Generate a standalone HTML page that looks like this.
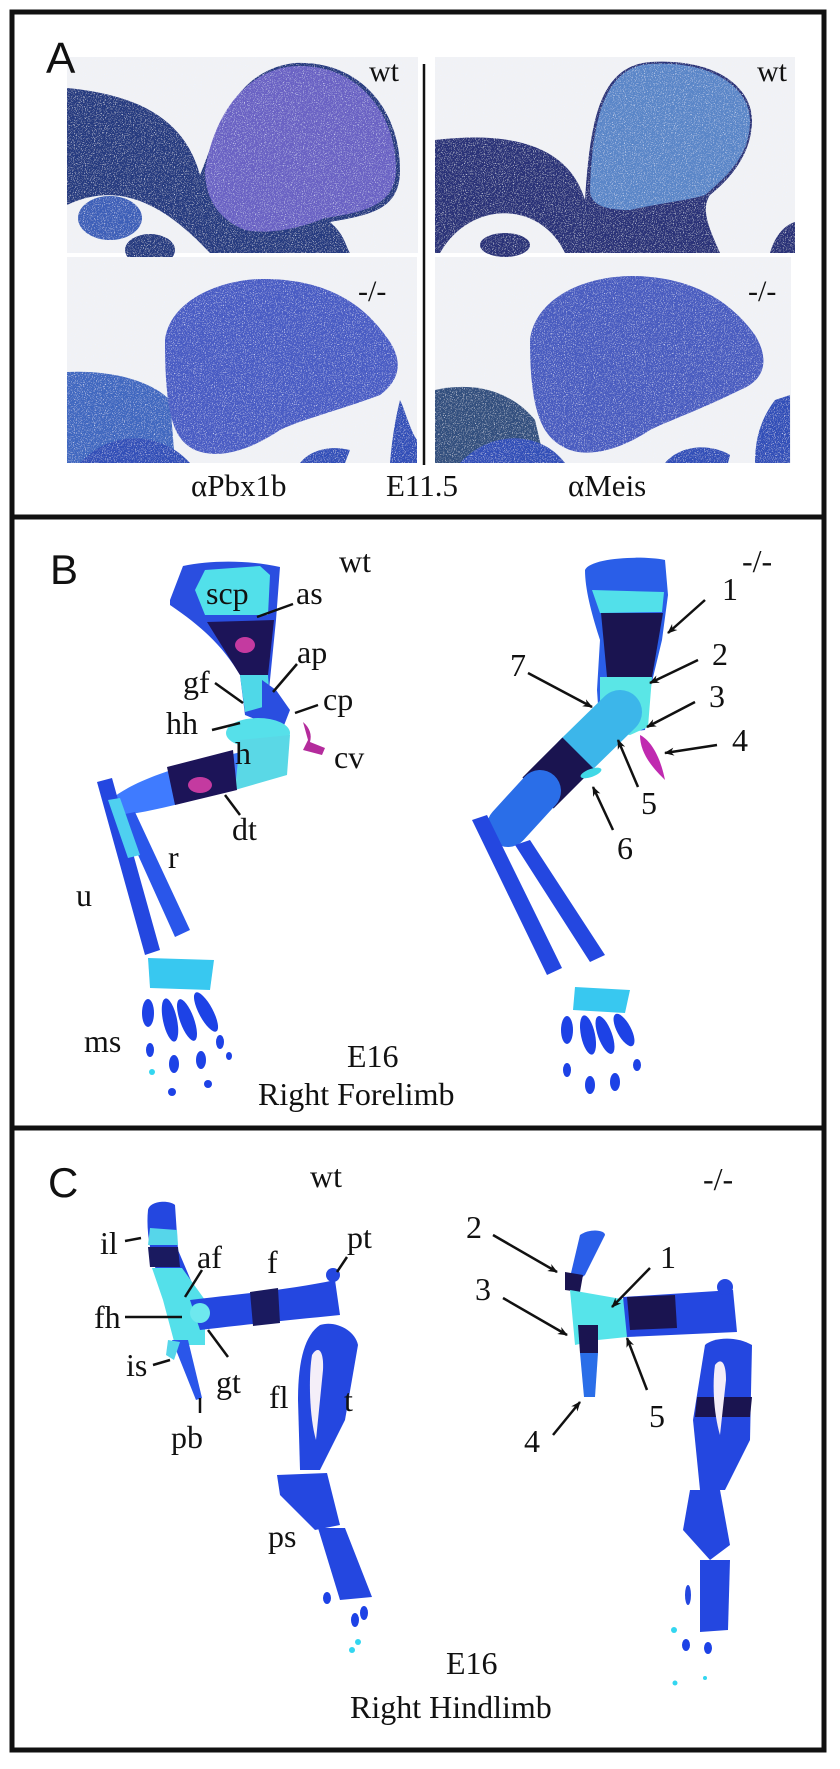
<!DOCTYPE html>
<html><head><meta charset="utf-8"><style>
html,body{margin:0;padding:0;background:#fff;}
svg{display:block}
.s{font-family:"Liberation Serif",serif;fill:#111;}
.p{font-family:"Liberation Sans",sans-serif;fill:#111;}
</style></head><body>
<svg width="840" height="1769" viewBox="0 0 840 1769" xmlns="http://www.w3.org/2000/svg">
<defs>
<filter id="tx" x="0" y="0" width="100%" height="100%">
<feTurbulence type="fractalNoise" baseFrequency="0.9" numOctaves="2" result="n"/>
<feColorMatrix in="n" type="matrix" values="0 0 0 0 0.85  0 0 0 0 0.9  0 0 0 0 1  0 0 0 -3 1.3" result="w"/>
<feComposite in="w" in2="SourceGraphic" operator="in" result="m"/>
<feMerge><feMergeNode in="SourceGraphic"/><feMergeNode in="m"/></feMerge>
</filter>
<marker id="ar" markerWidth="10" markerHeight="10" refX="9" refY="5" orient="auto" markerUnits="userSpaceOnUse">
<path d="M0,1 L10,5 L0,9 L3,5 Z" fill="#111"/></marker>
</defs>
<rect x="0" y="0" width="840" height="1769" fill="#fff"/>
<rect x="12" y="12" width="812" height="1738" fill="none" stroke="#111" stroke-width="5"/>
<line x1="12" y1="517" x2="824" y2="517" stroke="#111" stroke-width="5"/>
<line x1="12" y1="1128" x2="824" y2="1128" stroke="#111" stroke-width="5"/>

<!-- PANEL A -->
<g filter="url(#tx)">
<rect x="67" y="57" width="351" height="196" fill="#f1f2f5"/>
<path d="M67,88 C140,95 185,120 200,175 C215,140 230,70 295,63 C360,60 400,110 400,170 C400,210 370,215 330,222 C345,235 345,245 350,253 L67,253 Z" fill="#283a80"/>
<path d="M205,170 C215,110 250,66 300,66 C360,66 396,115 396,170 C395,205 365,212 325,218 C300,228 270,235 245,230 C220,220 205,200 205,170 Z" fill="#6a62c4"/>
<path d="M67,205 C120,180 165,205 210,253 L67,253 Z" fill="#f1f2f5"/>
<ellipse cx="110" cy="218" rx="32" ry="22" fill="#3c5fb8"/>
<ellipse cx="150" cy="250" rx="25" ry="16" fill="#283a80"/>
<rect x="435" y="57" width="360" height="196" fill="#f1f2f5"/>
<path d="M435,140 C520,130 570,150 585,200 C590,120 600,66 650,62 C720,58 752,90 752,120 C752,150 735,175 710,195 C700,210 710,230 720,253 L435,253 Z" fill="#2a3278"/>
<path d="M590,190 C592,120 605,66 650,64 C715,60 750,90 750,120 C750,150 735,170 705,195 C690,200 650,205 630,210 C605,210 590,205 590,190 Z" fill="#5a86c8"/>
<path d="M440,253 C470,200 540,200 565,253 Z" fill="#f1f2f5"/>
<ellipse cx="505" cy="245" rx="25" ry="12" fill="#2a3278"/>
<path d="M770,253 C775,235 785,225 795,222 L795,253 Z" fill="#2a3278"/>
<rect x="67" y="257" width="350" height="206" fill="#f1f2f5"/>
<path d="M67,372 C110,370 150,380 170,400 L175,463 L67,463 Z" fill="#4068c0"/>
<path d="M165,340 C170,300 220,280 260,279 C320,278 360,300 385,335 C405,360 400,380 380,395 C340,410 300,420 280,430 C250,450 220,460 195,450 C175,440 165,420 165,340 Z" fill="#4a5cc4"/>
<path d="M80,463 C110,430 160,430 190,463 Z" fill="#3050b8"/>
<path d="M300,463 C310,450 330,445 350,450 L345,463 Z" fill="#3050b8"/>
<path d="M400,400 C405,410 410,430 417,440 L417,463 L390,463 C392,440 395,420 400,400 Z" fill="#3050b8"/>
<rect x="435" y="257" width="356" height="206" fill="#f1f2f5"/>
<path d="M435,390 C480,380 515,395 535,420 L545,463 L435,463 Z" fill="#30507e"/>
<path d="M530,340 C535,300 580,277 630,276 C690,276 730,300 755,335 C770,360 765,380 740,390 C700,410 670,420 650,430 C620,450 590,457 570,450 C545,440 530,420 530,340 Z" fill="#4a5cc0"/>
<path d="M460,463 C490,430 540,430 565,463 Z" fill="#3050b8"/>
<path d="M665,463 C680,445 710,443 730,455 L728,463 Z" fill="#3050b8"/>
<path d="M775,400 C760,420 755,440 755,463 L790,463 L790,395 Z" fill="#3050b8"/>
</g>
<text x="46" y="73" class="p" font-size="44">A</text>
<line x1="424" y1="64" x2="424" y2="465" stroke="#111" stroke-width="2.5"/>
<text x="369" y="81" class="s" font-size="30">wt</text>
<text x="757" y="81" class="s" font-size="30">wt</text>
<text x="358" y="301" class="s" font-size="30">-/-</text>
<text x="748" y="301" class="s" font-size="30">-/-</text>
<text x="191" y="496" class="s" font-size="31">αPbx1b</text>
<text x="386" y="496" class="s" font-size="31">E11.5</text>
<text x="568" y="496" class="s" font-size="31">αMeis</text>

<!-- PANEL B -->
<text x="50" y="584" class="p" font-size="42">B</text>
<text x="339" y="572" class="s" font-size="32">wt</text>
<text x="742" y="572" class="s" font-size="32">-/-</text>
<g>
<path d="M170,600 L183,566 C210,560 250,560 280,567 L276,620 L268,700 L262,722 L245,715 L240,675 C225,650 207,630 170,605 Z" fill="#2a4ee0"/>
<path d="M195,590 L205,570 L260,566 L270,575 L268,615 L205,615 Z" fill="#52e0ea"/>
<path d="M207,622 L274,620 L268,675 L240,675 Z" fill="#1c1458"/>
<ellipse cx="245" cy="645" rx="10" ry="8" fill="#c43aa0"/>
<path d="M240,675 L268,675 L270,705 L245,712 Z" fill="#4fd8e8"/>
<path d="M262,680 L276,690 L290,710 L283,728 L262,720 Z" fill="#2a4ee0"/>
<ellipse cx="258" cy="733" rx="32" ry="15" fill="#56e0ea"/>
<path d="M110,800 C140,775 200,760 275,745 L285,772 C240,785 190,805 125,815 Z" fill="#3f7bff"/>
<path d="M240,740 L290,735 L287,775 L235,790 Z" fill="#5ad8e6"/>
<path d="M167,767 L233,750 L237,790 L175,805 Z" fill="#1c1458"/>
<ellipse cx="200" cy="785" rx="12" ry="8" fill="#c43aa0"/>
<path d="M97,782 L112,778 L160,950 L145,955 Z" fill="#2447e0"/>
<path d="M120,815 L135,812 L190,930 L175,937 Z" fill="#2a56ea"/>
<path d="M108,800 L120,798 L140,855 L128,858 Z" fill="#4fd0f0"/>
<path d="M148,958 L214,960 L210,990 L150,988 Z" fill="#38c8f0"/>
<g fill="#1d42e6">
<ellipse cx="148" cy="1013" rx="6" ry="14"/><ellipse cx="170" cy="1020" rx="7" ry="22" transform="rotate(-12 170 1020)"/>
<ellipse cx="187" cy="1020" rx="7" ry="22" transform="rotate(-20 187 1020)"/><ellipse cx="206" cy="1012" rx="7" ry="22" transform="rotate(-28 206 1012)"/>
<ellipse cx="150" cy="1050" rx="4" ry="7"/><ellipse cx="174" cy="1064" rx="5" ry="9"/><ellipse cx="201" cy="1060" rx="5" ry="9"/>
<ellipse cx="220" cy="1042" rx="4" ry="7"/><ellipse cx="229" cy="1056" rx="3" ry="4"/><circle cx="172" cy="1092" r="4"/><circle cx="208" cy="1084" r="4"/>
</g>
<circle cx="152" cy="1072" r="3" fill="#33d6f0"/>
<path d="M303,722 C310,728 312,735 310,742 L325,748 L322,755 L303,750 L308,740 Z" fill="#b42c9c"/>
</g>
<g class="s" font-size="32">
<text x="206" y="604">scp</text><text x="296" y="604">as</text><text x="297" y="663">ap</text>
<text x="183" y="693">gf</text><text x="323" y="710">cp</text><text x="166" y="734">hh</text>
<text x="235" y="764">h</text><text x="334" y="768">cv</text><text x="232" y="840">dt</text>
<text x="168" y="868">r</text><text x="76" y="906">u</text><text x="84" y="1052">ms</text>
</g>
<g stroke="#111" stroke-width="2.5">
<line x1="257" y1="617" x2="293" y2="604"/><line x1="273" y1="692" x2="297" y2="664"/>
<line x1="215" y1="683" x2="243" y2="703"/><line x1="295" y1="713" x2="318" y2="705"/>
<line x1="212" y1="730" x2="240" y2="723"/><line x1="225" y1="795" x2="240" y2="815"/>
</g>
<text x="347" y="1067" class="s" font-size="32">E16</text>
<text x="258" y="1105" class="s" font-size="32">Right Forelimb</text>
<!-- mutant forelimb -->
<g>
<path d="M585,570 C590,558 640,555 665,560 L668,595 L662,640 L650,690 L645,730 L600,735 L597,690 L600,640 C592,615 585,590 585,570 Z" fill="#2a5ee8"/>
<path d="M592,590 L664,592 L662,612 L600,613 Z" fill="#52e0ea"/>
<path d="M601,613 L663,613 L652,677 L607,677 Z" fill="#1a1450"/>
<path d="M600,677 L652,677 L648,727 L630,735 L600,730 Z" fill="#5ae6e6"/>
<line x1="620" y1="712" x2="575" y2="756" stroke="#3cb6ea" stroke-width="44" stroke-linecap="round"/>
<line x1="578" y1="753" x2="538" y2="793" stroke="#1a1450" stroke-width="44"/>
<line x1="540" y1="791" x2="508" y2="826" stroke="#2a6ee8" stroke-width="42" stroke-linecap="round"/>
<path d="M472,820 L487,815 L562,968 L547,975 Z" fill="#2447e0"/>
<path d="M515,845 L530,840 L605,955 L590,962 Z" fill="#2447e0"/>
<path d="M575,987 L630,990 L625,1013 L573,1010 Z" fill="#38c8f0"/>
<g fill="#1d42e6">
<ellipse cx="567" cy="1030" rx="6" ry="14"/><ellipse cx="588" cy="1035" rx="7" ry="20" transform="rotate(-12 588 1035)"/>
<ellipse cx="605" cy="1035" rx="7" ry="20" transform="rotate(-20 605 1035)"/><ellipse cx="624" cy="1030" rx="7" ry="18" transform="rotate(-28 624 1030)"/>
<ellipse cx="567" cy="1070" rx="4" ry="7"/><ellipse cx="590" cy="1085" rx="5" ry="9"/><ellipse cx="615" cy="1082" rx="5" ry="9"/><ellipse cx="637" cy="1065" rx="4" ry="6"/>
</g>
<path d="M640,735 C650,740 660,755 665,780 C655,770 640,755 640,735 Z" fill="#c02ab0"/>
<ellipse cx="591" cy="773" rx="11" ry="4" fill="#40d8e6" transform="rotate(-20 591 773)"/>
</g>
<g class="s" font-size="32">
<text x="722" y="600">1</text><text x="712" y="665">2</text><text x="709" y="707">3</text>
<text x="732" y="751">4</text><text x="641" y="814">5</text><text x="617" y="859">6</text><text x="510" y="676">7</text>
</g>
<g stroke="#111" stroke-width="2.5" marker-end="url(#ar)">
<line x1="705" y1="600" x2="668" y2="633"/><line x1="698" y1="660" x2="650" y2="683"/>
<line x1="695" y1="702" x2="647" y2="727"/><line x1="717" y1="745" x2="665" y2="753"/>
<line x1="638" y1="787" x2="618" y2="740"/><line x1="613" y1="830" x2="593" y2="787"/>
<line x1="528" y1="673" x2="592" y2="707"/>
</g>

<!-- PANEL C -->
<text x="48" y="1197" class="p" font-size="42">C</text>
<text x="310" y="1187" class="s" font-size="32">wt</text>
<text x="703" y="1190" class="s" font-size="32">-/-</text>
<g>
<path d="M148,1210 C150,1200 170,1200 175,1205 L178,1250 L195,1290 L165,1295 C155,1270 145,1240 148,1210 Z" fill="#2447e0"/>
<path d="M150,1228 L177,1230 L178,1245 L148,1245 Z" fill="#56d6ea"/>
<path d="M148,1247 L178,1247 L180,1267 L150,1267 Z" fill="#1a1a60"/>
<path d="M152,1268 L182,1268 L205,1300 L205,1345 L175,1345 L163,1300 Z" fill="#54e0ea"/>
<path d="M172,1340 L188,1340 L202,1398 L196,1400 Z" fill="#2a56ea"/>
<path d="M168,1340 L180,1342 L174,1360 L166,1355 Z" fill="#56d6ea"/>
<path d="M190,1300 C230,1295 290,1290 335,1280 L340,1315 C290,1320 240,1325 200,1330 Z" fill="#2447e0"/>
<path d="M250,1292 L278,1288 L280,1323 L253,1326 Z" fill="#1a1a60"/>
<circle cx="333" cy="1275" r="7" fill="#2447e0"/>
<circle cx="200" cy="1313" r="10" fill="#6ee8ee"/>
<path d="M320,1325 C335,1320 355,1330 358,1345 L345,1420 L320,1470 L300,1470 L298,1400 C298,1360 305,1335 320,1325 Z" fill="#2447e0"/>
<path d="M312,1355 C318,1345 324,1350 323,1370 L316,1440 C310,1420 308,1380 312,1355 Z" fill="#f4eef8"/>
<path d="M277,1475 L327,1473 L340,1525 L315,1530 L280,1495 Z" fill="#2447e0"/>
<path d="M318,1528 L345,1528 L372,1597 L340,1600 Z" fill="#2447e0"/>
<g fill="#1d42e6"><ellipse cx="327" cy="1598" rx="4" ry="6"/><ellipse cx="355" cy="1620" rx="4" ry="7"/><ellipse cx="364" cy="1613" rx="4" ry="7"/></g>
<g fill="#33d6f0"><circle cx="358" cy="1642" r="3"/><circle cx="352" cy="1650" r="3"/></g>
</g>
<g class="s" font-size="32">
<text x="100" y="1254">il</text><text x="197" y="1268">af</text><text x="267" y="1273">f</text>
<text x="347" y="1248">pt</text><text x="94" y="1328">fh</text><text x="126" y="1376">is</text>
<text x="216" y="1393">gt</text><text x="269" y="1408">fl</text><text x="344" y="1411">t</text>
<text x="171" y="1448">pb</text><text x="268" y="1547">ps</text>
</g>
<g stroke="#111" stroke-width="2.5">
<line x1="125" y1="1241" x2="141" y2="1238"/><line x1="185" y1="1297" x2="202" y2="1270"/>
<line x1="337" y1="1272" x2="347" y2="1257"/><line x1="125" y1="1317" x2="182" y2="1317"/>
<line x1="153" y1="1365" x2="170" y2="1360"/><line x1="208" y1="1330" x2="228" y2="1357"/>
<line x1="200" y1="1398" x2="200" y2="1413"/>
</g>
<text x="446" y="1674" class="s" font-size="32">E16</text>
<text x="350" y="1718" class="s" font-size="32">Right Hindlimb</text>
<g>
<path d="M580,1235 C590,1228 605,1230 605,1235 L585,1275 L567,1290 Z" fill="#2a5ee8"/>
<path d="M565,1272 L583,1275 L580,1292 L565,1290 Z" fill="#1a1450"/>
<path d="M570,1290 L627,1300 L627,1337 L598,1340 L575,1345 Z" fill="#56e4ea"/>
<path d="M578,1325 L598,1325 L598,1353 L580,1353 Z" fill="#1a1450"/>
<path d="M580,1353 L598,1353 L595,1397 L584,1397 Z" fill="#2a6ee8"/>
<path d="M623,1297 L733,1290 L737,1332 L627,1337 Z" fill="#2447e0"/>
<path d="M627,1297 L675,1295 L677,1328 L630,1330 Z" fill="#1a1450"/>
<circle cx="725" cy="1287" r="8" fill="#2447e0"/>
<path d="M705,1345 C712,1338 735,1335 752,1345 L750,1440 L725,1490 L700,1490 L693,1420 Z" fill="#2447e0"/>
<path d="M697,1397 L752,1397 L750,1417 L695,1417 Z" fill="#1a1450"/>
<path d="M715,1365 C720,1358 726,1360 726,1380 L720,1435 C714,1415 712,1385 715,1365 Z" fill="#f4eef8"/>
<path d="M690,1490 L720,1490 L730,1545 L710,1560 L683,1530 Z" fill="#2447e0"/>
<path d="M700,1560 L730,1560 L728,1630 L700,1632 Z" fill="#2447e0"/>
<ellipse cx="688" cy="1595" rx="3" ry="10" fill="#2447e0"/>
<g fill="#1d42e6"><ellipse cx="686" cy="1645" rx="4" ry="6"/><ellipse cx="708" cy="1648" rx="4" ry="6"/></g>
<g fill="#33d6f0"><circle cx="674" cy="1630" r="3"/><circle cx="675" cy="1683" r="2.5"/><circle cx="705" cy="1678" r="2"/></g>
</g>
<g class="s" font-size="32">
<text x="466" y="1238">2</text><text x="660" y="1268">1</text><text x="475" y="1300">3</text>
<text x="524" y="1452">4</text><text x="649" y="1427">5</text>
</g>
<g stroke="#111" stroke-width="2.5" marker-end="url(#ar)">
<line x1="493" y1="1235" x2="557" y2="1272"/><line x1="650" y1="1268" x2="612" y2="1307"/>
<line x1="503" y1="1298" x2="567" y2="1335"/><line x1="553" y1="1435" x2="580" y2="1402"/>
<line x1="647" y1="1390" x2="627" y2="1338"/>
</g>
</svg>
</body></html>
